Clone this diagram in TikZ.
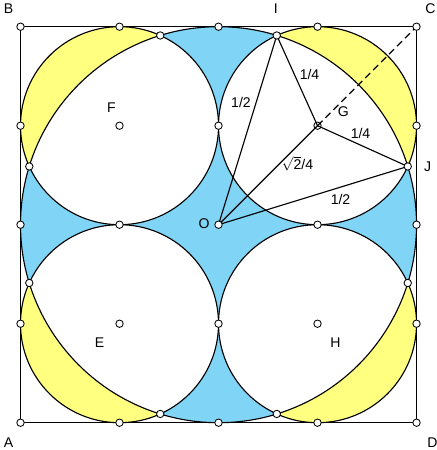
\documentclass[tikz,border=0pt]{standalone}
\usepackage{fontspec}
\setmainfont{Liberation Sans}
\usetikzlibrary{positioning}
\definecolor{lunegelb}{RGB}{255,255,128}
\definecolor{himmelblau}{RGB}{128,212,246}

\begin{document}
\begin{tikzpicture}[x=9.9cm, y=9.9cm,
    pt/.style={circle, draw, fill=white, line width=0.6pt,
        inner sep=0pt, minimum size=0.185cm},
    lbl/.style={font=\normalsize, inner sep=0pt},
    seg/.style={line width=0.8pt}]
    \useasboundingbox (-0.05177,-0.0689) rectangle (1.04924,1.0674);

    \coordinate (A) at (0,0);
    \coordinate (B) at (0,1);
    \coordinate (C) at (1,1);
    \coordinate (D) at (1,0);
    \coordinate (O) at (0.5,0.5);
    \coordinate (E) at (0.25,0.25);
    \coordinate (F) at (0.25,0.75);
    \coordinate (G) at (0.75,0.75);
    \coordinate (H) at (0.75,0.25);
    \coordinate (I) at ([shift={(0.5,0.5)}]72.8854:0.5);
    \coordinate (J) at ([shift={(0.5,0.5)}]17.1146:0.5);

    % lunes and the blue star
    \fill[himmelblau] (O) circle (0.5);
    \fill[lunegelb] (E) circle (0.25) (F) circle (0.25)
        (G) circle (0.25) (H) circle (0.25);
    \begin{scope}
        \clip (O) circle (0.5);
        \fill[white] (E) circle (0.25) (F) circle (0.25)
            (G) circle (0.25) (H) circle (0.25);
    \end{scope}

    \draw[seg] (A) rectangle (C);
    \draw[seg] (O) circle (0.5);
    \foreach \c in {E,F,G,H}
        \draw[seg] (\c) circle (0.25);

    \node[pt] (pG) at (G) {};
    \draw[seg, dash pattern=on 5pt off 3pt] (G) -- (C);
    \draw[seg] (O) -- (I) -- (G) -- (J) -- (O) -- (G);

    % hollow points
    \foreach \x [count=\i] in {0,0.25,0.5,0.75,1} {
        \node[pt] (pb\i) at (\x,0) {};
        \node[pt] (pt\i) at (\x,1) {};
    }
    \foreach \y [count=\i] in {0.25,0.5,0.75} {
        \node[pt] (pl\i) at (0,\y) {};
        \node[pt] (pr\i) at (1,\y) {};
    }
    \foreach \p [count=\i] in {(0.5,0.75),(0.25,0.5),(0.75,0.5),(0.5,0.25)}
        \node[pt] (pm\i) at \p {};
    \foreach \a [count=\i] in {45,135,225,315} {
        \node[pt] (px\i) at ([shift={(0.5,0.5)}]\a+27.8854:0.5) {};
        \node[pt] (py\i) at ([shift={(0.5,0.5)}]\a-27.8854:0.5) {};
    }
    \foreach \c in {E,F,H,O}
        \node[pt] (p\c) at (\c) {};

    % letters
    \node[lbl] (lA) at (-0.0303,-0.0505) {A};
    \node[lbl] (lB) at (-0.0303,1.0447) {B};
    \node[lbl] (lC) at (1.0354,1.0447) {C};
    \node[lbl] (lD) at (1.0404,-0.0513) {D};
    \node[lbl] (lE) at (0.1995,0.2013) {E};
    \node[lbl] (lF) at (0.2298,0.796) {F};
    \node[lbl] (lG) at (0.815,0.786) {G};
    \node[lbl] (lH) at (0.7955,0.2013) {H};
    \node[lbl] (lI) at (0.645,1.0447) {I};
    \node[lbl] (lJ) at (1.0278,0.6465) {J};
    \node[lbl] (lO) at (0.4634,0.503) {O};

    % lengths
    \node[lbl] (dOI) at (0.5568,0.8086) {1/2};
    \node[lbl] (dGI) at (0.7298,0.8806) {1/4};
    \node[lbl] (dGJ) at (0.8586,0.7303) {1/4};
    \node[lbl] (dOG) at (0.6995,0.6533) {$\sqrt{\mbox{2}}$/4};
    \node[lbl] (dOJ) at (0.8081,0.5649) {1/2};

\end{tikzpicture}
\end{document}
